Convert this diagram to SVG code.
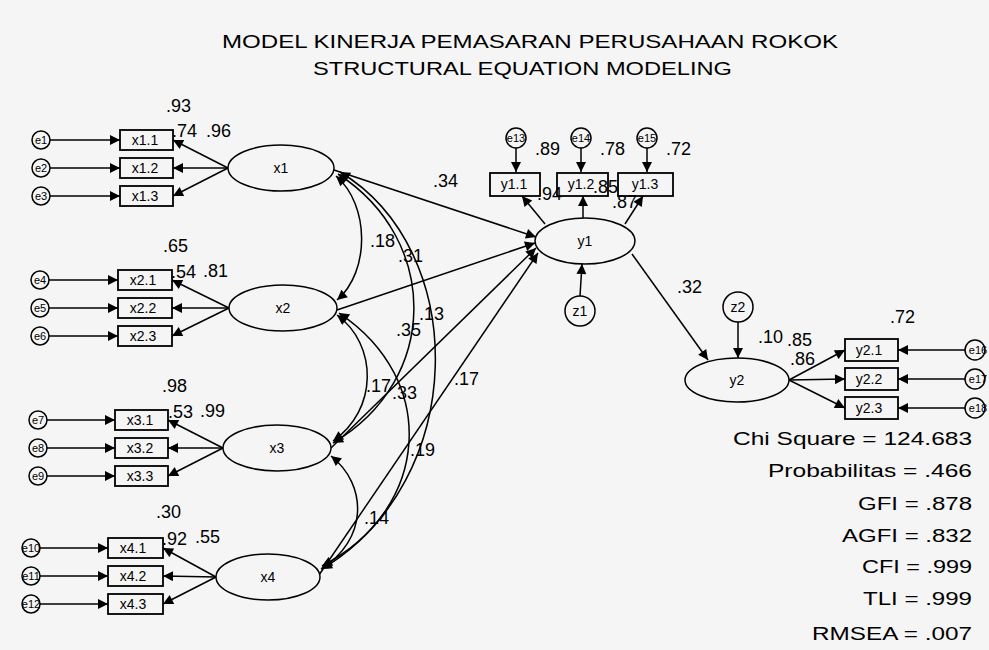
<svg xmlns="http://www.w3.org/2000/svg" width="989" height="650" viewBox="0 0 989 650">
<style>
.bg{fill:#f5f5f5}
.ln{stroke:#000;stroke-width:1.5;fill:none}
.box{fill:#f5f5f5;stroke:#000;stroke-width:1.8}
.ell{fill:#f5f5f5;stroke:#000;stroke-width:1.5}
.err{fill:#f5f5f5;stroke:#000;stroke-width:1.5}
text{font-family:"Liberation Sans",Arial,sans-serif;fill:#000}
.bt{font-size:14px;text-anchor:middle}
.et{font-size:11px;text-anchor:middle}
.lt{font-size:14px;text-anchor:middle}
.num{font-size:18px}
.st{font-size:19px}
.ti{font-size:18px}
</style>
<defs>
<marker id="arr" viewBox="0 0 10 10" refX="10" refY="5" markerUnits="userSpaceOnUse" markerWidth="12" markerHeight="10" orient="auto-start-reverse">
<path d="M0,0 L10,5 L0,10 z" fill="#000"/>
</marker>
</defs>
<rect class="bg" x="0" y="0" width="989" height="650"/>
<g id="title">
<text class="ti" x="222" y="48" textLength="616" lengthAdjust="spacingAndGlyphs">MODEL KINERJA PEMASARAN PERUSAHAAN ROKOK</text>
<text class="ti" x="313" y="75" textLength="419" lengthAdjust="spacingAndGlyphs">STRUCTURAL EQUATION MODELING</text>
</g>
<g id="connectors" class="ln" marker-end="url(#arr)">
<line x1="50" y1="140" x2="120" y2="140"/>
<line x1="50" y1="168" x2="120" y2="168"/>
<line x1="50" y1="196" x2="120" y2="196"/>
<line x1="49" y1="280" x2="118" y2="280"/>
<line x1="49" y1="308" x2="118" y2="308"/>
<line x1="49" y1="336" x2="118" y2="336"/>
<line x1="47" y1="420" x2="115" y2="420"/>
<line x1="47" y1="448" x2="115" y2="448"/>
<line x1="47" y1="476" x2="115" y2="476"/>
<line x1="40" y1="548" x2="108" y2="548"/>
<line x1="40" y1="576" x2="108" y2="576"/>
<line x1="40" y1="604" x2="108" y2="604"/>
<line x1="228" y1="168" x2="173" y2="140"/>
<line x1="228" y1="168" x2="173" y2="168"/>
<line x1="228" y1="168" x2="173" y2="196"/>
<line x1="229" y1="308" x2="172" y2="280"/>
<line x1="229" y1="308" x2="172" y2="308"/>
<line x1="229" y1="308" x2="172" y2="336"/>
<line x1="223" y1="448" x2="168" y2="420"/>
<line x1="223" y1="448" x2="168" y2="448"/>
<line x1="223" y1="448" x2="168" y2="476"/>
<line x1="216" y1="577" x2="163" y2="548"/>
<line x1="216" y1="577" x2="163" y2="576"/>
<line x1="216" y1="577" x2="163" y2="604"/>
<path marker-start="url(#arr)" d="M336,176 C370,205 370,272 337,300"/>
<path marker-start="url(#arr)" d="M338,174 C440,240 440,380 333,443"/>
<path marker-start="url(#arr)" d="M340,172 C470,250 470,480 322,569"/>
<path marker-start="url(#arr)" d="M337,315 C378,345 378,410 333,441"/>
<path marker-start="url(#arr)" d="M339,313 C440,380 430,510 322,566"/>
<path marker-start="url(#arr)" d="M331,456 C368,485 368,540 321,569"/>
<line x1="334" y1="170" x2="536" y2="237"/>
<line x1="337" y1="310" x2="535" y2="243"/>
<line x1="331" y1="448" x2="536" y2="248"/>
<line x1="319" y1="575" x2="538" y2="253"/>
<line x1="632" y1="254" x2="708" y2="360"/>
<line x1="516" y1="148" x2="516" y2="172"/>
<line x1="581" y1="148" x2="581" y2="172"/>
<line x1="647" y1="148" x2="647" y2="172"/>
<line x1="545" y1="224" x2="522" y2="196"/>
<line x1="583" y1="218" x2="583" y2="196"/>
<line x1="625" y1="224" x2="643" y2="196"/>
<line x1="580" y1="296" x2="582" y2="264"/>
<line x1="738" y1="322" x2="738" y2="358"/>
<line x1="789" y1="380" x2="845" y2="350"/>
<line x1="789" y1="380" x2="845" y2="379"/>
<line x1="789" y1="380" x2="845" y2="408"/>
<line x1="965" y1="350" x2="898" y2="350"/>
<line x1="965" y1="379" x2="898" y2="379"/>
<line x1="965" y1="408" x2="898" y2="408"/>
</g>
<g id="e1"><circle class="err" cx="41" cy="140" r="9"/><text class="et" x="41" y="144">e1</text></g>
<g id="e2"><circle class="err" cx="41" cy="168" r="9"/><text class="et" x="41" y="172">e2</text></g>
<g id="e3"><circle class="err" cx="41" cy="196" r="9"/><text class="et" x="41" y="200">e3</text></g>
<g id="e4"><circle class="err" cx="40" cy="280" r="9"/><text class="et" x="40" y="284">e4</text></g>
<g id="e5"><circle class="err" cx="40" cy="308" r="9"/><text class="et" x="40" y="312">e5</text></g>
<g id="e6"><circle class="err" cx="40" cy="336" r="9"/><text class="et" x="40" y="340">e6</text></g>
<g id="e7"><circle class="err" cx="38" cy="420" r="9"/><text class="et" x="38" y="424">e7</text></g>
<g id="e8"><circle class="err" cx="38" cy="448" r="9"/><text class="et" x="38" y="452">e8</text></g>
<g id="e9"><circle class="err" cx="38" cy="476" r="9"/><text class="et" x="38" y="480">e9</text></g>
<g id="e10"><circle class="err" cx="31" cy="548" r="9"/><text class="et" x="31" y="552">e10</text></g>
<g id="e11"><circle class="err" cx="31" cy="576" r="9"/><text class="et" x="31" y="580">e11</text></g>
<g id="e12"><circle class="err" cx="31" cy="604" r="9"/><text class="et" x="31" y="608">e12</text></g>
<g id="e13"><circle class="err" cx="516" cy="138" r="10"/><text class="et" x="516" y="142">e13</text></g>
<g id="e14"><circle class="err" cx="581" cy="138" r="10"/><text class="et" x="581" y="142">e14</text></g>
<g id="e15"><circle class="err" cx="647" cy="138" r="10"/><text class="et" x="647" y="142">e15</text></g>
<g id="e16"><circle class="err" cx="975" cy="350" r="10"/><text class="et" x="978" y="354">e16</text></g>
<g id="e17"><circle class="err" cx="975" cy="379" r="10"/><text class="et" x="978" y="383">e17</text></g>
<g id="e18"><circle class="err" cx="975" cy="408" r="10"/><text class="et" x="978" y="412">e18</text></g>
<g id="z1"><circle class="err" cx="580" cy="311" r="15"/><text class="lt" x="580" y="316">z1</text></g>
<g id="z2"><circle class="err" cx="738" cy="307" r="15"/><text class="lt" x="738" y="312">z2</text></g>
<g id="x1_1"><rect class="box" x="120" y="130" width="53" height="20"/><text class="bt" x="145" y="145">x1.1</text></g>
<g id="x1_2"><rect class="box" x="120" y="158" width="53" height="20"/><text class="bt" x="145" y="173">x1.2</text></g>
<g id="x1_3"><rect class="box" x="120" y="186" width="53" height="20"/><text class="bt" x="145" y="201">x1.3</text></g>
<g id="x2_1"><rect class="box" x="118" y="270" width="54" height="20"/><text class="bt" x="143" y="285">x2.1</text></g>
<g id="x2_2"><rect class="box" x="118" y="298" width="54" height="20"/><text class="bt" x="143" y="313">x2.2</text></g>
<g id="x2_3"><rect class="box" x="118" y="326" width="54" height="20"/><text class="bt" x="143" y="341">x2.3</text></g>
<g id="x3_1"><rect class="box" x="115" y="410" width="53" height="20"/><text class="bt" x="140" y="425">x3.1</text></g>
<g id="x3_2"><rect class="box" x="115" y="438" width="53" height="20"/><text class="bt" x="140" y="453">x3.2</text></g>
<g id="x3_3"><rect class="box" x="115" y="466" width="53" height="20"/><text class="bt" x="140" y="481">x3.3</text></g>
<g id="x4_1"><rect class="box" x="108" y="538" width="55" height="20"/><text class="bt" x="133" y="553">x4.1</text></g>
<g id="x4_2"><rect class="box" x="108" y="566" width="55" height="20"/><text class="bt" x="133" y="581">x4.2</text></g>
<g id="x4_3"><rect class="box" x="108" y="594" width="55" height="20"/><text class="bt" x="133" y="609">x4.3</text></g>
<g id="y1_1"><rect class="box" x="490" y="173" width="50" height="23"/><text class="bt" x="514" y="189">y1.1</text></g>
<g id="y1_2"><rect class="box" x="557" y="173" width="51" height="23"/><text class="bt" x="581" y="189">y1.2</text></g>
<g id="y1_3"><rect class="box" x="618" y="173" width="55" height="23"/><text class="bt" x="645" y="189">y1.3</text></g>
<g id="y2_1"><rect class="box" x="845" y="339" width="53" height="22"/><text class="bt" x="869" y="355">y2.1</text></g>
<g id="y2_2"><rect class="box" x="845" y="368" width="53" height="22"/><text class="bt" x="869" y="384">y2.2</text></g>
<g id="y2_3"><rect class="box" x="845" y="397" width="53" height="22"/><text class="bt" x="869" y="413">y2.3</text></g>
<g id="x1"><ellipse class="ell" cx="281" cy="168" rx="53" ry="23"/><text class="lt" x="281" y="173">x1</text></g>
<g id="x2"><ellipse class="ell" cx="283" cy="308" rx="54" ry="23"/><text class="lt" x="283" y="313">x2</text></g>
<g id="x3"><ellipse class="ell" cx="277" cy="448" rx="54" ry="23"/><text class="lt" x="277" y="453">x3</text></g>
<g id="x4"><ellipse class="ell" cx="268" cy="577" rx="52" ry="23"/><text class="lt" x="268" y="582">x4</text></g>
<g id="y1"><ellipse class="ell" cx="585" cy="241" rx="50" ry="23"/><text class="lt" x="585" y="246">y1</text></g>
<g id="y2"><ellipse class="ell" cx="737" cy="380" rx="52" ry="22"/><text class="lt" x="737" y="385">y2</text></g>
<g id="labels" class="num">
<text x="166" y="112">.93</text>
<text x="172" y="137">.74</text>
<text x="206" y="137">.96</text>
<text x="163" y="252">.65</text>
<text x="171" y="278">.54</text>
<text x="203" y="277">.81</text>
<text x="162" y="392">.98</text>
<text x="168" y="418">.53</text>
<text x="200" y="417">.99</text>
<text x="156" y="518">.30</text>
<text x="162" y="545">.92</text>
<text x="195" y="543">.55</text>
<text x="433" y="187">.34</text>
<text x="370" y="247">.18</text>
<text x="398" y="262">.31</text>
<text x="419" y="320">.13</text>
<text x="396" y="336">.35</text>
<text x="366" y="392">.17</text>
<text x="392" y="399">.33</text>
<text x="454" y="385">.17</text>
<text x="410" y="456">.19</text>
<text x="364" y="524">.14</text>
<text x="677" y="293">.32</text>
<text x="535" y="155">.89</text>
<text x="600" y="155">.78</text>
<text x="666" y="155">.72</text>
<text x="537" y="200">.94</text>
<text x="593" y="193">.85</text>
<text x="612" y="208">.87</text>
<text x="758" y="343">.10</text>
<text x="787" y="346">.85</text>
<text x="790" y="365">.86</text>
<text x="890" y="323">.72</text>
</g>
<g id="fit" class="st">
<text x="733" y="445" textLength="239" lengthAdjust="spacingAndGlyphs">Chi Square = 124.683</text>
<text x="768" y="477" textLength="204" lengthAdjust="spacingAndGlyphs">Probabilitas = .466</text>
<text x="858" y="510" textLength="114" lengthAdjust="spacingAndGlyphs">GFI = .878</text>
<text x="842" y="542" textLength="130" lengthAdjust="spacingAndGlyphs">AGFI = .832</text>
<text x="862" y="573" textLength="110" lengthAdjust="spacingAndGlyphs">CFI = .999</text>
<text x="863" y="605" textLength="109" lengthAdjust="spacingAndGlyphs">TLI = .999</text>
<text x="812" y="640" textLength="160" lengthAdjust="spacingAndGlyphs">RMSEA = .007</text>
</g>
</svg>
